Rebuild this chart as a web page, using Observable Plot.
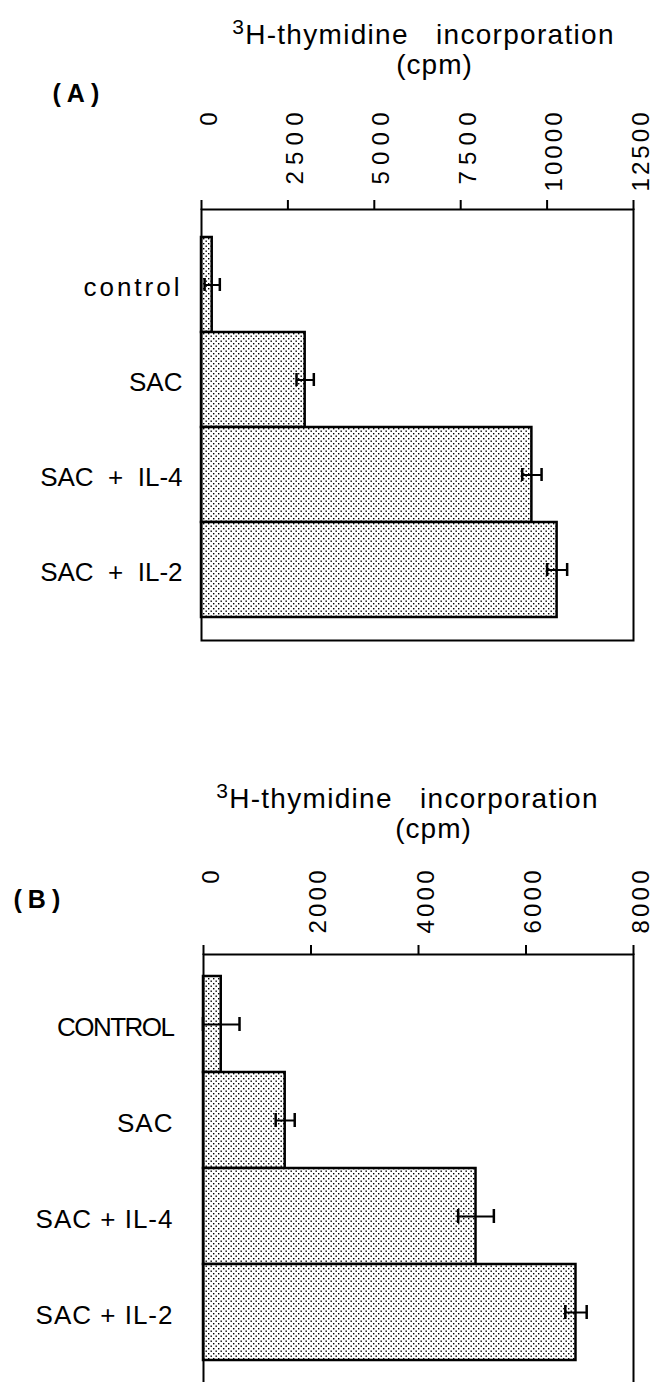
<!DOCTYPE html>
<html>
<head>
<meta charset="utf-8">
<script src="https://cdn.jsdelivr.net/npm/d3@7"></script>
<script src="https://cdn.jsdelivr.net/npm/@observablehq/plot@0.6"></script>
<style>
  html, body { margin: 0; padding: 0; background: #fff; }
  #chart { width: 653px; }
  #chart svg { display: block; }
</style>
</head>
<body>
<div id="chart"></div>
<script>
// ---------- data ----------
const titleSup = "3";
const titleLine1 = "H-thymidine\u00a0\u00a0 incorporation";
const titleLine2 = "(cpm)";

// Panel A
const panelLetterA = "(A)";
const categoriesA = ["control", "SAC", "SAC + IL-4", "SAC + IL-2"];
const labelsA = ["control", "SAC", "SAC\u00a0 +\u00a0 IL-4", "SAC\u00a0 +\u00a0 IL-2"];
const valuesA = [310, 3000, 9560, 10290];
const errorsA = [220, 250, 280, 290];
const ticksA = [0, 2500, 5000, 7500, 10000, 12500];

// Panel B
const panelLetterB = "(B)";
const categoriesB = ["CONTROL", "SAC", "SAC + IL-4", "SAC + IL-2"];
const labelsB = ["CONTROL", "SAC", "SAC + IL-4", "SAC + IL-2"];
const valuesB = [330, 1520, 5070, 6930];
const errorsB = [340, 177, 332, 199];
const ticksB = [0, 2000, 4000, 6000, 8000];

const FONT = '"Liberation Sans", Arial, Helvetica, sans-serif';

function panel(o) {
  const data = o.categories.map((c, i) => ({cat: c, label: o.labels[i], value: o.values[i], err: o.errors[i]}));
  const svg = Plot.plot({
    width: 653,
    height: o.height,
    marginTop: o.marginTop,
    marginLeft: o.marginLeft,
    marginRight: 20,
    marginBottom: o.marginBottom,
    x: {domain: [0, o.max], axis: null},
    y: {domain: o.categories, padding: 0, axis: null, insetTop: o.insetTop, insetBottom: o.insetBottom},
    style: {fontFamily: FONT, color: "#000", background: "#fff"},
    marks: [
      Plot.barX(data, {x: "value", y: "cat", fill: `url(#${o.id})`, stroke: "#000", strokeWidth: 2.5}),
      Plot.ruleY(data, {y: "cat", x1: d => d.value - d.err, x2: d => d.value + d.err, stroke: "#000", strokeWidth: 2}),
      Plot.tickX(data, {x: d => d.value - d.err, y: "cat", insetTop: o.capInset, insetBottom: o.capInset, stroke: "#000", strokeWidth: 2.5}),
      Plot.tickX(data, {x: d => d.value + d.err, y: "cat", insetTop: o.capInset, insetBottom: o.capInset, stroke: "#000", strokeWidth: 2.5}),
      Plot.frame({stroke: "#000", strokeWidth: 2}),
      Plot.axisX(o.ticks, {anchor: "top", tickSize: 10, tickFormat: () => "", strokeWidth: 2, label: null}),
      Plot.text(o.ticks, {x: d => d, text: d => String(d), frameAnchor: "top", rotate: -90, textAnchor: "end", lineAnchor: "top", dx: -2, dy: o.tickDy, fontSize: 24}),
      Plot.text(data, {y: "cat", text: "label", frameAnchor: "left", textAnchor: "end", lineAnchor: "middle", dx: o.labelDx, dy: 3, fontSize: 26}),
      Plot.text([titleLine1], {text: d => d, frameAnchor: "top", lineAnchor: "bottom", dx: o.t1dx, dy: o.t1dy, fontSize: 28}),
      Plot.text([titleLine2], {text: d => d, frameAnchor: "top", lineAnchor: "bottom", dx: o.t2dx, dy: o.t2dy, fontSize: 28}),
      Plot.text([o.letter], {text: d => d, frameAnchor: "top-left", textAnchor: "start", lineAnchor: "middle", dx: o.letterDx, dy: o.letterDy, fontSize: 25, fontWeight: "bold"})
    ]
  });
  const s = d3.select(svg);
  const pat = s.insert("defs", ":first-child")
    .append("pattern")
    .attr("id", o.id)
    .attr("patternUnits", "userSpaceOnUse")
    .attr("width", 5).attr("height", 5);
  pat.append("rect").attr("width", 5).attr("height", 5).attr("fill", "#fff");
  pat.append("rect").attr("x", 0.5).attr("y", 0.5).attr("width", 1.4).attr("height", 1.4).attr("fill", "#000");
  pat.append("rect").attr("x", 3).attr("y", 3).attr("width", 1.4).attr("height", 1.4).attr("fill", "#000");

  const tickStrings = o.ticks.map(String);
  s.selectAll("text").each(function () {
    const el = d3.select(this);
    const txt = this.textContent;
    const tr = this.getAttribute("transform") || "";
    if (tr.includes("rotate") && tickStrings.includes(txt)) {
      if (txt.length > 1) {
        el.attr("textLength", txt.length >= 5 ? o.len5 : o.len4).attr("lengthAdjust", "spacing");
      }
    } else if (txt === o.letter) {
      el.style("letter-spacing", "6px");
    } else if (txt === titleLine1) {
      el.style("letter-spacing", "1.3px");
      el.text(null);
      el.append("tspan").attr("font-size", 21).attr("dy", "-10").text(titleSup);
      el.append("tspan").attr("dy", "10").text(txt);
    } else if (txt === titleLine2) {
      el.style("letter-spacing", "1px");
    } else if (txt === "control") {
      el.style("letter-spacing", "3px");
    } else if (txt === "CONTROL") {
      el.style("letter-spacing", "-1.5px");
    } else if (o.labels.includes(txt) && o.labelSpacing) {
      el.style("letter-spacing", o.labelSpacing);
    }
  });
  return svg;
}

const chart = document.getElementById("chart");
chart.appendChild(panel({
  id: "dotsA", letter: panelLetterA,
  categories: categoriesA, labels: labelsA, values: valuesA, errors: errorsA, ticks: ticksA, max: 12500,
  height: 700, marginTop: 209, marginLeft: 201, marginBottom: 60,
  insetTop: 27, insetBottom: 23, capInset: 41,
  tickDy: -97, len4: 72, len5: 79, labelDx: -19, labelSpacing: null,
  t1dx: 6, t1dy: -166, t2dx: 17, t2dy: -136,
  letterDx: -149, letterDy: -116
}));
chart.appendChild(panel({
  id: "dotsB", letter: panelLetterB,
  categories: categoriesB, labels: labelsB, values: valuesB, errors: errorsB, ticks: ticksB, max: 8000,
  height: 685, marginTop: 254, marginLeft: 203, marginBottom: 2,
  insetTop: 22, insetBottom: 23, capInset: 41,
  tickDy: -84, len4: 63, len5: 70, labelDx: -30, labelSpacing: "1px",
  t1dx: -11, t1dy: -147, t2dx: 15, t2dy: -117,
  letterDx: -190, letterDy: -55
}));
</script>
</body>
</html>
